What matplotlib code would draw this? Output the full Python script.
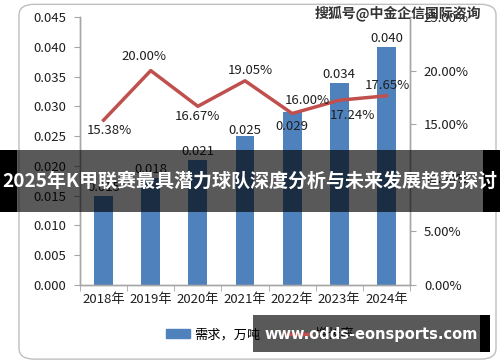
#!/usr/bin/env python3
# -*- coding:utf-8 -*-
import matplotlib as mpl
import matplotlib.pyplot as plt
import numpy as np
from matplotlib.patches import FancyBboxPatch, Rectangle
from matplotlib.ticker import FuncFormatter

mpl.use('Agg')

years = ['2018年', '2019年', '2020年', '2021年', '2022年', '2023年', '2024年']
demand = [0.015, 0.018, 0.021, 0.025, 0.029, 0.034, 0.040]
growth = [15.38, 20.00, 16.67, 19.05, 16.00, 17.24, 17.65]

title = '2025年K甲联赛最具潜力球队深度分析与未来发展趋势探讨'
bar_name = '需求，万吨'
line_name = '增长率'
mark_top = '搜狐号@中金企信国际咨询'
mark_bottom = 'www.odds-eonsports.com'

# label offsets (pixels), as Excel placed them
bar_offsets = [8, 8, 8, 6, -14, 8, 8]
line_offsets = [(6, -10), (-7, 14), (0, -10), (5, 10), (15, 13), (13, -15), (1, 10)]

BLUE = '#4F81BD'
RED = '#C0504D'
TXT = '#1F1F1F'
GRID = '#A6A6A6'

plt.rcParams['font.family'] = ['Noto Sans CJK SC', 'DejaVu Sans']

fig = plt.figure(figsize=(5, 3.62), dpi=100)
ax = fig.add_axes([0.16, 0.2127, 0.66, 0.7403])
ax2 = ax.twinx()

x = np.arange(len(years))
ax.bar(x, demand, width=0.4, color=BLUE, zorder=2)
for xi, v, dy in zip(x, demand, bar_offsets):
    ax.annotate('%.3f' % v, (xi, v), xytext=(0, dy), textcoords='offset pixels',
                ha='center', va='center', fontsize=9.5, color=TXT)

ax.set_ylim(0, 0.045)
ax.set_yticks(np.arange(0, 0.0451, 0.005))
ax.yaxis.set_major_formatter(FuncFormatter(lambda v, p: '%.3f' % v))
ax.set_xlim(-0.5, len(years) - 0.5)
ax.set_xticks(x)
ax.set_xticklabels(years)
ax.set_xticks(np.arange(-0.5, len(years), 1.0), minor=True)
ax.tick_params(axis='x', which='major', length=0, pad=6, labelsize=9.5, labelcolor=TXT)
ax.tick_params(axis='x', which='minor', length=4, color=GRID, direction='out')
ax.tick_params(axis='y', length=4, color=GRID, labelsize=9.5, labelcolor=TXT, pad=6)

ax2.plot(x, growth, color=RED, lw=2.5, zorder=3)
ax2.set_ylim(0, 25)
ax2.set_yticks(np.arange(0, 25.1, 5))
ax2.yaxis.set_major_formatter(FuncFormatter(lambda v, p: '%.2f%%' % v))
ax2.tick_params(axis='y', length=4, color=GRID, labelsize=9.5, labelcolor=TXT, pad=6)
for xi, v, (dx, dy) in zip(x, growth, line_offsets):
    ax2.annotate('%.2f%%' % v, (xi, v), xytext=(dx, dy), textcoords='offset pixels',
                 ha='center', va='center', fontsize=9.5, color=TXT)

for a in (ax, ax2):
    a.spines['top'].set_visible(False)
    for s in ('left', 'right', 'bottom'):
        a.spines[s].set_color(GRID)
        a.spines[s].set_linewidth(1.0)
    a.patch.set_visible(False)

# legend
h1 = mpl.patches.Patch(color=BLUE)
h2 = mpl.lines.Line2D([], [], color=RED, lw=2.5)
fig.legend([h1, h2], [bar_name, line_name], loc='center', bbox_to_anchor=(0.52, 0.075),
           ncol=2, frameon=False, fontsize=9.5, handlelength=1.8, handleheight=0.7,
           columnspacing=2.0, handletextpad=0.3)

# rounded outer border
fig.add_artist(FancyBboxPatch((0.038, 0.008), 0.954, 0.98, boxstyle='round,pad=0,rounding_size=0.03',
                              transform=fig.transFigure, fc='none', ec='#BFBFBF', lw=1.0))

# overlays
fig.add_artist(Rectangle((0, 1 - 212 / 362), 1, 62 / 362, transform=fig.transFigure,
                         fc='black', ec='none', alpha=0.65, zorder=5))
fig.add_artist(Rectangle((0, 1 - 212 / 362), 17 / 500, 62 / 362, transform=fig.transFigure,
                         fc='black', ec='none', zorder=5))
fig.add_artist(Rectangle((483 / 500, 1 - 212 / 362), 17 / 500, 62 / 362, transform=fig.transFigure,
                         fc='black', ec='none', zorder=5))
fig.text(0.5, 1 - 181 / 362, title, ha='center', va='center', color='white',
         fontsize=13.7, fontweight='bold', zorder=6)

fig.add_artist(Rectangle((253 / 500, 1 - 352 / 362), 227 / 500, 37 / 362, transform=fig.transFigure,
                         fc='black', ec='none', alpha=0.65, zorder=5))
fig.add_artist(Rectangle((480 / 500, 1 - 352 / 362), 10 / 500, 37 / 362, transform=fig.transFigure,
                         fc='black', ec='none', zorder=5))
fig.text(371 / 500, 1 - 334 / 362, mark_bottom, ha='center', va='center', color='white',
         fontsize=10.5, fontweight='bold', family='DejaVu Sans', zorder=6)

fig.text(398 / 500, 1 - 13 / 362, mark_top, ha='center', va='center', color='#333333',
         fontsize=10, fontweight='bold', zorder=6)

plt.savefig('out.png', dpi=100)
